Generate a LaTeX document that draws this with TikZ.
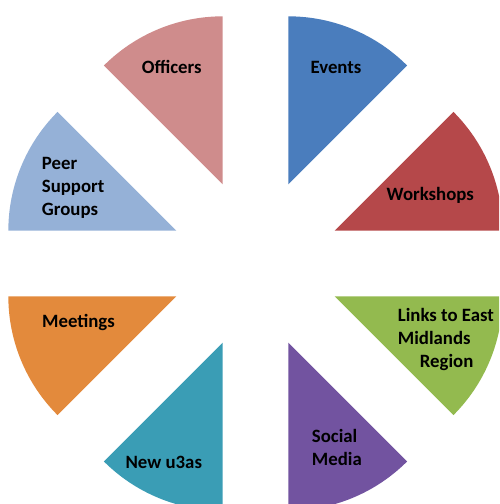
\documentclass[tikz,border=0pt]{standalone}
\usepackage{fontspec}
\setmainfont{Carlito}
\usetikzlibrary{calc}
\definecolor{cEvents}{HTML}{4A7DBD}
\definecolor{cWork}{HTML}{B5484A}
\definecolor{cLinks}{HTML}{93BA4F}
\definecolor{cSocial}{HTML}{7253A0}
\definecolor{cNew}{HTML}{3A9DB5}
\definecolor{cMeet}{HTML}{E38A3C}
\definecolor{cPeer}{HTML}{95B1D7}
\definecolor{cOff}{HTML}{CF8C8C}
\begin{document}
\begin{tikzpicture}[x=1pt,y=1pt,
  lbl/.style={font=\fontsize{18.8}{22.8}\selectfont\bfseries, text=black, inner sep=0pt}]
\useasboundingbox (0,0) rectangle (499,504);
\clip (0,0) rectangle (499,504);
\coordinate (c) at (255.5,240.5);
\def\R{168}
\def\D{85.7}
\foreach \a/\col in {0/cWork,45/cEvents,90/cOff,135/cPeer,180/cMeet,225/cNew,270/cSocial,315/cLinks}{
  \fill[\col] ($(c)+({\a+22.5}:\D)$) -- ++(\a:\R) arc[start angle=\a, end angle=\a+45, radius=\R] -- cycle;
}
\node[lbl] (officers) at (171.7,437.3) {Officers};
\node[lbl] (events) at (336,437) {Events};
\node[lbl] (workshops) at (430.3,309) {Workshops};
\node[lbl, anchor=west, align=left] (peer) at (41.7,316) {Peer\\Support\\Groups};
\node[lbl] (meetings) at (78.5,182) {Meetings};
\node[lbl] (newu3as) at (163.8,41.3) {New u3as};
\node[lbl, anchor=west, align=left] (links) at (397.7,164.5) {Links to East\\Midlands\\\hspace*{22pt}Region};
\node[lbl, anchor=west, align=left] (social) at (311.7,56.5) {Social\\Media};
\end{tikzpicture}
\end{document}
